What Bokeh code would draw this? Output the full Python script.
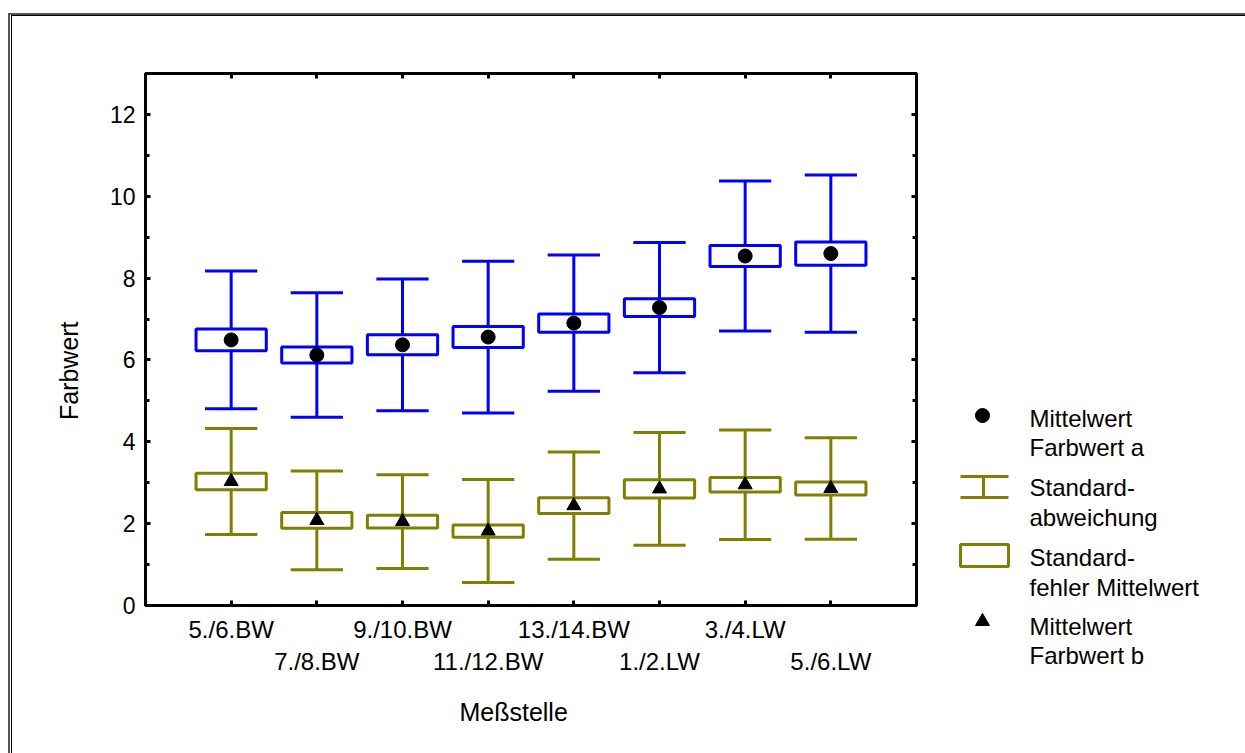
from bokeh.plotting import figure
from bokeh.models import Range1d, FixedTicker, LinearAxis, GlobalInlineStyleSheet
from bokeh.layouts import row
from bokeh.embed import file_html
from bokeh.resources import INLINE
from bokeh.core.properties import value

# ---------------- data ----------------
categories = ["5./6.BW", "7./8.BW", "9./10.BW", "11./12.BW",
              "13./14.BW", "1./2.LW", "3./4.LW", "5./6.LW"]
positions = [1, 2, 3, 4, 5, 6, 7, 8]

mean_a = [6.49, 6.12, 6.37, 6.56, 6.90, 7.28, 8.54, 8.60]
se_a = [0.265, 0.195, 0.245, 0.255, 0.225, 0.215, 0.255, 0.285]
sd_a = [1.685, 1.52, 1.61, 1.855, 1.665, 1.59, 1.835, 1.92]

mean_b = [3.03, 2.08, 2.05, 1.82, 2.44, 2.85, 2.95, 2.86]
se_b = [0.20, 0.19, 0.155, 0.15, 0.19, 0.225, 0.175, 0.16]
sd_b = [1.295, 1.205, 1.145, 1.26, 1.31, 1.375, 1.34, 1.24]

y_ticks = [0, 2, 4, 6, 8, 10, 12]
y_minor = [1, 3, 5, 7, 9, 11]

y_title = "Farbwert"
x_title = "Meßstelle"
legend_labels = [["Mittelwert", "Farbwert a"],
                 ["Standard-", "abweichung"],
                 ["Standard-", "fehler Mittelwert"],
                 ["Mittelwert", "Farbwert b"]]

# ---------------- style ----------------
FONT = "Liberation Sans"
BLUE = "#0000ff"
OLIVE = "#808000"
BOX_W = 0.82
CAP_W = 0.61
LW = 3
NBSP = "\u00a0"

p = figure(width=940, height=753, x_range=Range1d(0, 9), y_range=Range1d(0, 13),
           output_backend="svg", toolbar_location=None,
           x_axis_location=None, y_axis_location=None,
           min_border_left=145, min_border_right=24,
           min_border_top=73, min_border_bottom=148)
p.grid.visible = False
p.outline_line_color = "black"
p.outline_line_width = LW
p.frame_align = False


def draw_series(means, ses, sds, color, marker, msize):
    lo = [m - s for m, s in zip(means, sds)]
    hi = [m + s for m, s in zip(means, sds)]
    p.segment(x0=positions, y0=lo, x1=positions, y1=hi, line_color=color, line_width=LW)
    left = [x - CAP_W / 2 for x in positions]
    right = [x + CAP_W / 2 for x in positions]
    p.segment(x0=left, y0=hi, x1=right, y1=hi, line_color=color, line_width=LW)
    p.segment(x0=left, y0=lo, x1=right, y1=lo, line_color=color, line_width=LW)
    p.rect(x=positions, y=means, width=BOX_W, height=[2 * s for s in ses],
           fill_color="white", line_color=color, line_width=LW)
    p.scatter(x=positions, y=means, marker=marker, size=msize,
              fill_color="black", line_color="black")


draw_series(mean_a, se_a, sd_a, BLUE, "circle", 14)
draw_series(mean_b, se_b, sd_b, OLIVE, "triangle", 14)


def style_axis(ax, size="23px"):
    ax.axis_line_width = LW
    ax.major_tick_line_width = LW
    ax.minor_tick_line_width = LW
    ax.major_tick_in = 5
    ax.major_tick_out = 0
    ax.minor_tick_in = 4
    ax.minor_tick_out = 0
    ax.major_label_text_font = FONT
    ax.major_label_text_font_size = size
    ax.major_label_text_color = "black"
    ax.axis_label_text_font = FONT
    ax.axis_label_text_font_style = "normal"
    ax.axis_label_text_font_size = "25px"
    ax.axis_label_text_color = "black"


yticker = FixedTicker(ticks=y_ticks, minor_ticks=y_minor)
xticker = FixedTicker(ticks=positions, minor_ticks=[])

# trailing no-break spaces move the centred titles to where the original has them
left = LinearAxis(ticker=yticker, axis_label=y_title + NBSP * 9)
style_axis(left)
left.major_label_standoff = 10
left.axis_label_standoff = 24
p.add_layout(left, "left")

right = LinearAxis(ticker=yticker)
style_axis(right)
right.major_label_overrides = {t: "" for t in y_ticks}
p.add_layout(right, "right")

top = LinearAxis(ticker=xticker)
style_axis(top)
top.major_label_overrides = {t: "" for t in positions}
p.add_layout(top, "above")

bottom1 = LinearAxis(ticker=xticker)
style_axis(bottom1, "24px")
bottom1.major_label_standoff = 10
bottom1.major_label_overrides = {x: (c if i % 2 == 0 else "")
                                 for i, (x, c) in enumerate(zip(positions, categories))}
p.add_layout(bottom1, "below")

bottom2 = LinearAxis(ticker=xticker, axis_label=x_title + NBSP * 5)
style_axis(bottom2, "24px")
bottom2.axis_line_color = None
bottom2.major_tick_line_color = None
bottom2.minor_tick_line_color = None
bottom2.major_label_standoff = 2
bottom2.axis_label_standoff = 20
bottom2.major_label_overrides = {x: (c if i % 2 == 1 else "")
                                 for i, (x, c) in enumerate(zip(positions, categories))}
p.add_layout(bottom2, "below")

# ---------------- legend panel ----------------
lf = figure(width=305, height=753, x_range=Range1d(940, 1245), y_range=Range1d(753, 0),
            output_backend="svg", toolbar_location=None,
            x_axis_location=None, y_axis_location=None, min_border=0)
lf.grid.visible = False
lf.outline_line_color = None
lf.frame_align = False

ICON_X = 982
lf.scatter(x=[ICON_X], y=[415], marker="circle", size=14, color="black")
lf.segment(x0=[960, 960, 983], y0=[476, 497, 476], x1=[1008, 1008, 983], y1=[476, 497, 497],
           line_color=OLIVE, line_width=LW)
lf.rect(x=[984], y=[555], width=48, height=22, fill_color="white",
        line_color=OLIVE, line_width=LW)
lf.scatter(x=[ICON_X], y=[621], marker="triangle", size=14, color="black")

TEXT_X = 1029
line1_y = [418, 487, 557, 626]
line2_y = [447, 517, 587, 655]
lf.text(x=[TEXT_X] * 4, y=line1_y, text=[l[0] for l in legend_labels],
        text_font=value(FONT), text_font_size="24px", text_baseline="middle",
        text_color="black")
lf.text(x=[TEXT_X] * 4, y=line2_y, text=[l[1] for l in legend_labels],
        text_font=value(FONT), text_font_size="24px", text_baseline="middle",
        text_color="black")

# double frame line at top / left of the picture
frame_css = """
body::before { content: ""; position: fixed; left: 8px; top: 12.7px; right: 0; bottom: 0;
  border-top: 2px solid #555; border-left: 2px solid #555; pointer-events: none; z-index: 1000; }
body::after { content: ""; position: fixed; left: 11px; top: 15.4px; right: 0; bottom: 0;
  border-top: 1.5px solid #000; border-left: 1.5px solid #000; pointer-events: none; z-index: 1001; }
"""

layout = row(p, lf)
layout.stylesheets = [GlobalInlineStyleSheet(css=frame_css)]
open("out.html", "w").write(file_html(layout, INLINE))
